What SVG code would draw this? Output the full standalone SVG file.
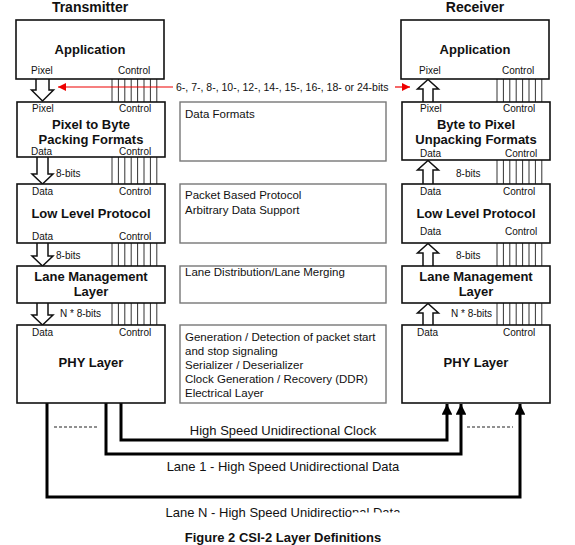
<svg xmlns="http://www.w3.org/2000/svg" width="575" height="545" viewBox="0 0 575 545">
<style>
text{font-family:"Liberation Sans",Arial,sans-serif;fill:#111}
.t{font-size:14px;font-weight:bold;text-anchor:middle}
.h{font-size:13px;font-weight:bold;text-anchor:middle}
.s{font-size:10px}
.m{font-size:11.5px}
.b{font-size:13px;text-anchor:middle}
.box{fill:#fff;stroke:#111;stroke-width:1.6}
.mbox{fill:#fff;stroke:#777;stroke-width:1.4}
.ha{fill:#fff;stroke:#111;stroke-width:1.5;stroke-linejoin:miter}
.ctl{stroke:#333;stroke-width:1}
.wire{fill:none;stroke:#000;stroke-width:3}
.dash{stroke:#222;stroke-width:1.2;stroke-dasharray:3,2}
</style>
<defs>
<marker id="ah" viewBox="0 0 10 10" refX="10" refY="5" markerWidth="3.6" markerHeight="3.6" orient="auto" markerUnits="strokeWidth">
<path d="M0,0 L10,5 L0,10 z" fill="#000"/>
</marker>
<marker id="rh" viewBox="0 0 10 10" refX="10" refY="5" markerWidth="8" markerHeight="8" orient="auto" markerUnits="userSpaceOnUse">
<path d="M0,0 L10,5 L0,10 z" fill="#e00"/>
</marker>
</defs>
<rect width="575" height="545" fill="#fff"/>
<text class="t" x="90" y="12">Transmitter</text>
<text class="t" x="475" y="12">Receiver</text>

<g id="connectors">
<g class="ctl">
<path d="M112,79V102M118.4,79V102M124.8,79V102M131.2,79V102M137.6,79V102M144,79V102M150.4,79V102M156.8,79V102"/>
<path d="M112,157V184M118.4,157V184M124.8,157V184M131.2,157V184M137.6,157V184M144,157V184M150.4,157V184M156.8,157V184"/>
<path d="M112,243V266M118.4,243V266M124.8,243V266M131.2,243V266M137.6,243V266M144,243V266M150.4,243V266M156.8,243V266"/>
<path d="M112,303V325M118.4,303V325M124.8,303V325M131.2,303V325M137.6,303V325M144,303V325M150.4,303V325M156.8,303V325"/>
<path d="M497,79V102M503.4,79V102M509.8,79V102M516.2,79V102M522.6,79V102M529,79V102M535.4,79V102M541.8,79V102"/>
<path d="M497,160V184M503.4,160V184M509.8,160V184M516.2,160V184M522.6,160V184M529,160V184M535.4,160V184M541.8,160V184"/>
<path d="M497,243V266M503.4,243V266M509.8,243V266M516.2,243V266M522.6,243V266M529,243V266M535.4,243V266M541.8,243V266"/>
<path d="M497,303V325M503.4,303V325M509.8,303V325M516.2,303V325M522.6,303V325M529,303V325M535.4,303V325M541.8,303V325"/>
</g>
<line x1="173" y1="87" x2="58" y2="87" stroke="#e00" stroke-width="1.2" marker-end="url(#rh)"/>
<line x1="395" y1="87" x2="410" y2="87" stroke="#e00" stroke-width="1.2" marker-end="url(#rh)"/>
<text x="176" y="91" style="font-size:10.5px">6-, 7-, 8-, 10-, 12-, 14-, 15-, 16-, 18- or 24-bits</text>
<path class="ha" d="M36,79V90H31.5L42.5,101L53.5,90H49V79"/>
<path class="ha" d="M37,157V174H32L42.5,184L53,174H48V157"/>
<path class="ha" d="M37,243V256H32L42.5,266L53,256H48V243"/>
<path class="ha" d="M37,303V315H32L42.5,325L53,315H48V303"/>
<text class="s" x="56" y="177">8-bits</text>
<text class="s" x="56" y="259">8-bits</text>
<text class="s" x="60" y="317">N * 8-bits</text>
<path class="ha" d="M423,102V89H417.5L428,79.5L438.5,89H433V102"/>
<path class="ha" d="M423,184V170H417.5L428,160.5L438.5,170H433V184"/>
<path class="ha" d="M423,266V253H417.5L428,243.5L438.5,253H433V266"/>
<path class="ha" d="M423,325V313H417.5L428,303.5L438.5,313H433V325"/>
<text class="s" x="456" y="177">8-bits</text>
<text class="s" x="456" y="259">8-bits</text>
<text class="s" x="451" y="317">N * 8-bits</text>
<path class="wire" d="M121,403V440H447V404" marker-end="url(#ah)"/>
<path class="wire" d="M106,403V454H461V404" marker-end="url(#ah)"/>
<path class="wire" d="M47,403V497H520V404" marker-end="url(#ah)"/>
<line class="dash" x1="54" y1="427" x2="99" y2="427"/>
<line class="dash" x1="467" y1="427" x2="513" y2="427"/>
<text class="b" x="283" y="435">High Speed Unidirectional Clock</text>
<text class="b" x="283" y="471">Lane 1 - High Speed Unidirectional Data</text>
<text class="b" x="283" y="517">Lane N - High Speed Unidirectional Data</text>
<rect x="352" y="512.5" width="55" height="9" fill="#fff"/>
</g>

<g id="tx-application">
<rect class="box" x="16" y="20" width="148" height="59"/>
<text class="h" x="90" y="54">Application</text>
<text class="s" x="31" y="74">Pixel</text>
<text class="s" x="118" y="74">Control</text>
</g>
<g id="tx-packing">
<rect class="box" x="17" y="102" width="148" height="55"/>
<text class="s" x="32" y="112">Pixel</text>
<text class="s" x="119" y="112">Control</text>
<text class="h" x="91" y="129">Pixel to Byte</text>
<text class="h" x="91" y="144">Packing Formats</text>
<text class="s" x="31" y="155">Data</text>
<text class="s" x="119" y="155">Control</text>
</g>
<g id="tx-llp">
<rect class="box" x="17" y="184" width="148" height="59"/>
<text class="s" x="32" y="195">Data</text>
<text class="s" x="119" y="195">Control</text>
<text class="h" x="91" y="218">Low Level Protocol</text>
<text class="s" x="32" y="240">Data</text>
<text class="s" x="119" y="240">Control</text>
</g>
<g id="tx-lane">
<rect class="box" x="17" y="266" width="148" height="37"/>
<text class="h" x="91" y="281">Lane Management</text>
<text class="h" x="91" y="296">Layer</text>
</g>
<g id="tx-phy">
<rect class="box" x="17" y="325" width="148" height="78"/>
<text class="s" x="32" y="336">Data</text>
<text class="s" x="119" y="336">Control</text>
<text class="h" x="91" y="367">PHY Layer</text>
</g>

<g id="desc-formats">
<rect class="mbox" x="180" y="102" width="206" height="59"/>
<text class="m" x="185" y="118">Data Formats</text>
</g>
<g id="desc-protocol">
<rect class="mbox" x="180" y="184" width="206" height="59"/>
<text class="m" x="185" y="199">Packet Based Protocol</text>
<text class="m" x="185" y="214">Arbitrary Data Support</text>
</g>
<g id="desc-lane">
<rect class="mbox" x="180" y="266" width="206" height="37"/>
<text class="m" x="185" y="276">Lane Distribution/Lane Merging</text>
</g>
<g id="desc-phy">
<rect class="mbox" x="180" y="325" width="206" height="78"/>
<text class="m" x="185" y="341">Generation / Detection of packet start</text>
<text class="m" x="185" y="355">and stop signaling</text>
<text class="m" x="185" y="369">Serializer / Deserializer</text>
<text class="m" x="185" y="383">Clock Generation / Recovery (DDR)</text>
<text class="m" x="185" y="397">Electrical Layer</text>
</g>

<g id="rx-application">
<rect class="box" x="401" y="20" width="148" height="59"/>
<text class="h" x="475" y="54">Application</text>
<text class="s" x="419" y="74">Pixel</text>
<text class="s" x="502" y="74">Control</text>
</g>
<g id="rx-unpacking">
<rect class="box" x="402" y="102" width="148" height="58"/>
<text class="s" x="420" y="112">Pixel</text>
<text class="s" x="503" y="112">Control</text>
<text class="h" x="476" y="129">Byte to Pixel</text>
<text class="h" x="476" y="144">Unpacking Formats</text>
<text class="s" x="420" y="157">Data</text>
<text class="s" x="505" y="157">Control</text>
</g>
<g id="rx-llp">
<rect class="box" x="402" y="184" width="148" height="59"/>
<text class="s" x="420" y="195">Data</text>
<text class="s" x="503" y="195">Control</text>
<text class="h" x="476" y="218">Low Level Protocol</text>
<text class="s" x="420" y="235">Data</text>
<text class="s" x="505" y="235">Control</text>
</g>
<g id="rx-lane">
<rect class="box" x="402" y="266" width="148" height="37"/>
<text class="h" x="476" y="281">Lane Management</text>
<text class="h" x="476" y="296">Layer</text>
</g>
<g id="rx-phy">
<rect class="box" x="402" y="325" width="148" height="78"/>
<text class="s" x="417" y="336">Data</text>
<text class="s" x="503" y="336">Control</text>
<text class="h" x="476" y="367">PHY Layer</text>
</g>

<text class="h" x="283" y="542">Figure 2 CSI-2 Layer Definitions</text>
</svg>
